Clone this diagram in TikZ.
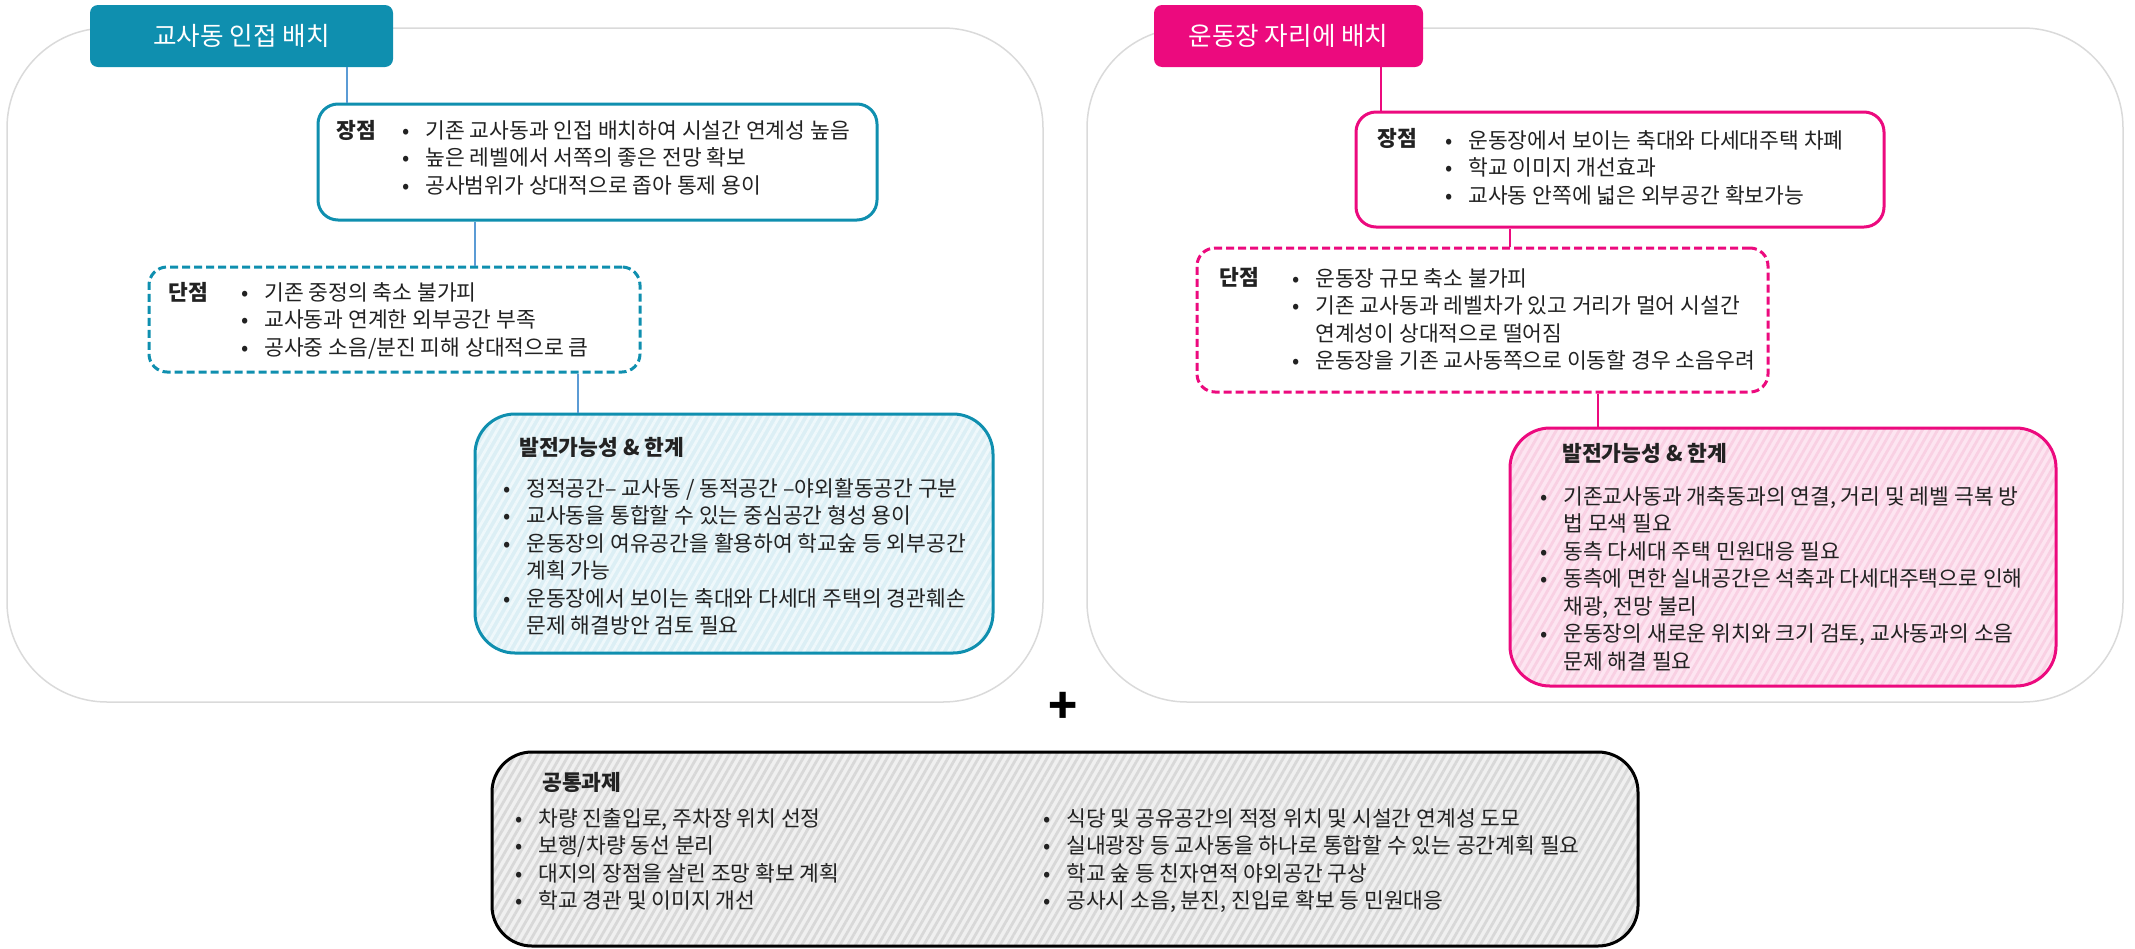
\documentclass[tikz,border=0pt]{standalone}
\usepackage{fontspec}
\setmainfont{Noto Sans CJK KR}
\usepackage{tikz}
\usetikzlibrary{positioning,calc,patterns.meta}
\definecolor{tealc}{HTML}{0F8FAF}
\definecolor{magc}{HTML}{EC0A7E}
\definecolor{framec}{HTML}{DADADA}
\definecolor{linkb}{HTML}{5B9BD5}
\definecolor{bluefill}{HTML}{DCEFF5}
\definecolor{bluestripe}{HTML}{EFF8FB}
\definecolor{pinkfill}{HTML}{FDE5F1}
\definecolor{pinkstripe}{HTML}{F9D0E3}
\definecolor{grayfill}{HTML}{F0F0F0}
\definecolor{graystripe}{HTML}{D8D8D8}
\definecolor{txtc}{HTML}{222222}
\newcommand{\bl}{\makebox[11.5pt][l]{•}}
\newcommand{\nb}{\makebox[11.5pt]{}}

\begin{document}
\begin{tikzpicture}[x=0.5pt, y=-0.5pt, every node/.style={inner sep=0pt, text=txtc}, frame/.style={draw=framec, line width=0.75pt, rounded corners=50pt, minimum width=518pt, minimum height=337pt}, ttl/.style={rounded corners=4pt, minimum height=31pt, text=white, font=\fontsize{12.8pt}{15pt}\selectfont}, probox/.style={draw=#1, line width=1.5pt, rounded corners=10pt, fill=white}, conbox/.style={draw=#1, line width=1.5pt, rounded corners=9pt, dash pattern=on 4pt off 2pt, fill=white}, devbox/.style={draw=#1, line width=1.5pt, rounded corners=20pt}, stripes/.style={pattern={Lines[angle=60, distance=3.3pt, line width=1.4pt]}}, hd/.style={anchor=west, font=\bfseries\fontsize{10.75pt}{13.75pt}\selectfont}, txt/.style={anchor=north west, align=left, font=\fontsize{10.75pt}{13.75pt}\selectfont}, lk/.style={line width=0.75pt}]
\useasboundingbox (0,0) rectangle (2135,948);
% frames
\node[frame] (lframe) at (525,365) {};
\node[frame] (rframe) at (1605,365) {};
\node[ttl, fill=tealc, minimum width=151.5pt] (ltitle) at (241.5,36) {교사동 인접 배치};
\node[ttl, fill=magc, minimum width=134.5pt] (rtitle) at (1288.5,36) {운동장 자리에 배치};
% left
\node[probox=tealc, minimum width=279.5pt, minimum height=58pt] (lpro) at (597.5,162) {};
\node[conbox=tealc, minimum width=245.5pt, minimum height=52.5pt] (lcon) at (394.5,319.5) {};
\node[devbox=tealc, preaction={fill=bluefill}, stripes, pattern color=bluestripe, minimum width=259pt, minimum height=119.5pt] (ldev) at (734,533.5) {};
\node[hd] (lprohd) at (336,130) {장점};
\node[txt] (lprolist) at (402,120) {\bl 기존 교사동과 인접 배치하여 시설간 연계성 높음\\ \bl 높은 레벨에서 서쪽의 좋은 전망 확보\\ \bl 공사범위가 상대적으로 좁아 통제 용이};
\node[hd] (lconhd) at (168,292) {단점};
\node[txt] (lconlist) at (241,282) {\bl 기존 중정의 축소 불가피\\ \bl 교사동과 연계한 외부공간 부족\\ \bl 공사중 소음/분진 피해 상대적으로 큼};
\node[hd] (ldevhd) at (519,447) {발전가능성 \& 한계};
\node[txt] (ldevlist) at (503,478) {\bl 정적공간– 교사동 / 동적공간 –야외활동공간 구분\\ \bl 교사동을 통합할 수 있는 중심공간 형성 용이\\ \bl 운동장의 여유공간을 활용하여 학교숲 등 외부공간\\ \nb 계획 가능\\ \bl 운동장에서 보이는 축대와 다세대 주택의 경관훼손\\ \nb 문제 해결방안 검토 필요};
% right
\node[probox=magc, minimum width=264pt, minimum height=57.5pt] (rpro) at (1620,169.5) {};
\node[conbox=magc, minimum width=285.5pt, minimum height=72pt] (rcon) at (1482.5,320) {};
\node[devbox=magc, preaction={fill=pinkfill}, stripes, pattern color=pinkstripe, minimum width=273pt, minimum height=129pt] (rdev) at (1783,557) {};
\node[hd] (rprohd) at (1377,138) {장점};
\node[txt] (rprolist) at (1445,130) {\bl 운동장에서 보이는 축대와 다세대주택 차폐\\ \bl 학교 이미지 개선효과\\ \bl 교사동 안쪽에 넓은 외부공간 확보가능};
\node[hd] (rconhd) at (1219,277) {단점};
\node[txt] (rconlist) at (1292,268) {\bl 운동장 규모 축소 불가피\\ \bl 기존 교사동과 레벨차가 있고 거리가 멀어 시설간\\ \nb 연계성이 상대적으로 떨어짐\\ \bl 운동장을 기존 교사동쪽으로 이동할 경우 소음우려};
\node[hd] (rdevhd) at (1562,453) {발전가능성 \& 한계};
\node[txt] (rdevlist) at (1540,486) {\bl 기존교사동과 개축동과의 연결, 거리 및 레벨 극복 방\\ \nb 법 모색 필요\\ \bl 동측 다세대 주택 민원대응 필요\\ \bl 동측에 면한 실내공간은 석축과 다세대주택으로 인해\\ \nb 채광, 전망 불리\\ \bl 운동장의 새로운 위치와 크기 검토, 교사동과의 소음\\ \nb 문제 해결 필요};
% common
\node[font=\bfseries\fontsize{24pt}{24pt}\selectfont, text=black] (plus) at (1063,708) {+};
\node[devbox=black, preaction={fill=grayfill}, stripes, pattern color=graystripe, minimum width=573pt, minimum height=97pt] (common) at (1065,849) {};
\node[hd] (comhd) at (542,782) {공통과제};
\node[txt] (comleft) at (515,808) {\bl 차량 진출입로, 주차장 위치 선정\\ \bl 보행/차량 동선 분리\\ \bl 대지의 장점을 살린 조망 확보 계획\\ \bl 학교 경관 및 이미지 개선};
\node[txt] (comright) at (1043,808) {\bl 식당 및 공유공간의 적정 위치 및 시설간 연계성 도모\\ \bl 실내광장 등 교사동을 하나로 통합할 수 있는 공간계획 필요\\ \bl 학교 숲 등 친자연적 야외공간 구상\\ \bl 공사시 소음, 분진, 진입로 확보 등 민원대응};
% links
\coordinate (lx1) at (347,0); \coordinate (lx2) at (475,0); \coordinate (lx3) at (578,0);
\coordinate (rx1) at (1381,0); \coordinate (rx2) at (1510,0); \coordinate (rx3) at (1598,0);
\draw[lk, linkb] (ltitle.south -| lx1) -- (lpro.north -| lx1);
\draw[lk, linkb] (lpro.south -| lx2) -- (lcon.north -| lx2);
\draw[lk, linkb] (lcon.south -| lx3) -- (ldev.north -| lx3);
\draw[lk, magc] (rtitle.south -| rx1) -- (rpro.north -| rx1);
\draw[lk, magc] (rpro.south -| rx2) -- (rcon.north -| rx2);
\draw[lk, magc] (rcon.south -| rx3) -- (rdev.north -| rx3);
\end{tikzpicture}
\end{document}
